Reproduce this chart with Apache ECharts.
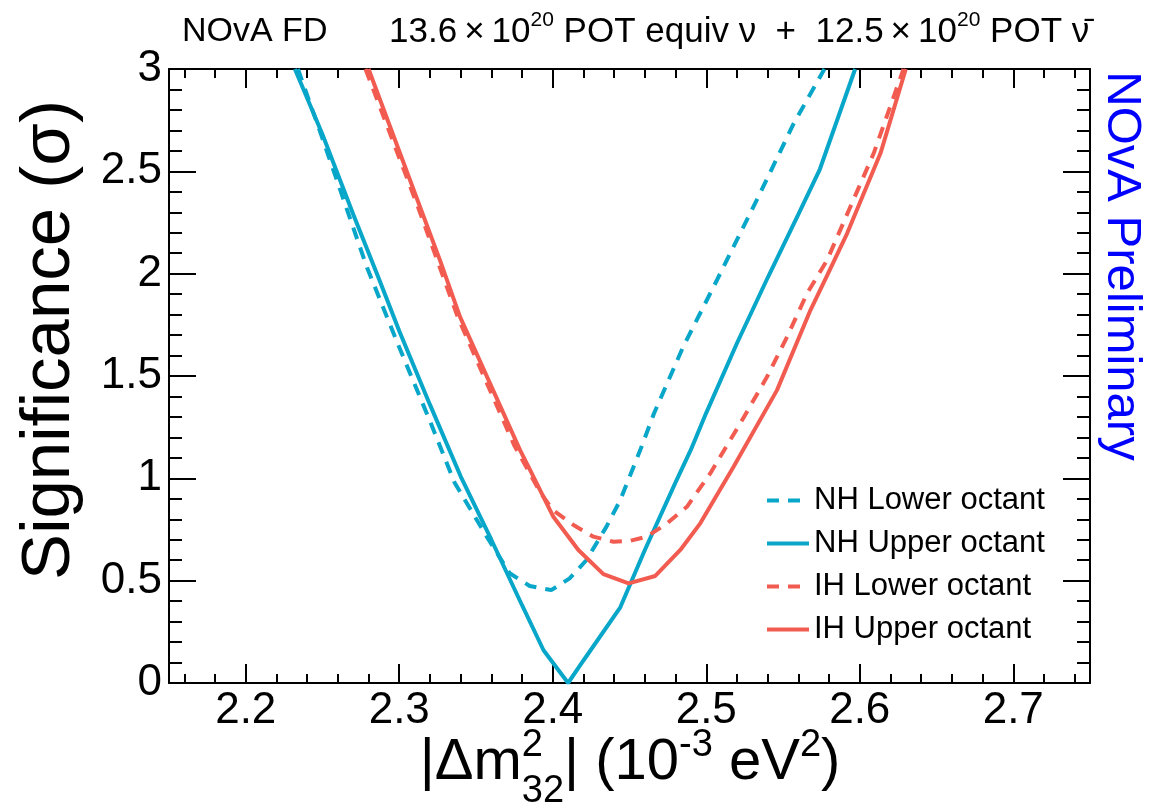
<!DOCTYPE html>
<html><head><meta charset="utf-8">
<script src="https://cdn.jsdelivr.net/npm/echarts@6/dist/echarts.min.js"></script>
<style>html,body{margin:0;padding:0;background:#fff}#c{width:1176px;height:806px}</style>
</head><body><div id="c"></div><script>
// ---- data ----
const xMajorTicks = [2.2, 2.3, 2.4, 2.5, 2.6, 2.7];
const xMinorTicks = [2.16,2.18,2.2,2.22,2.24,2.26,2.28,2.3,2.32,2.34,2.36,2.38,2.4,2.42,2.44,2.46,2.48,2.5,2.52,2.54,2.56,2.58,2.6,2.62,2.64,2.66,2.68,2.7,2.72,2.74];
const seriesNames = ['NH Lower octant', 'NH Upper octant', 'IH Lower octant', 'IH Upper octant'];

const nhLowerDm  = [2.234, 2.25, 2.279, 2.300, 2.320, 2.336, 2.357, 2.372, 2.385, 2.399, 2.411, 2.422, 2.435, 2.444, 2.457, 2.466, 2.485, 2.507, 2.535, 2.557, 2.577];
const nhLowerSig = [3.0,   2.66, 2.03,  1.64,  1.28,  0.98,  0.715, 0.536, 0.474, 0.454, 0.511, 0.601, 0.764, 0.894, 1.138, 1.318, 1.643, 1.969, 2.392, 2.734, 3.0];

const nhUpperDm  = [2.232, 2.25, 2.27, 2.287, 2.30, 2.32, 2.34, 2.36, 2.38, 2.394, 2.41, 2.42, 2.444, 2.46, 2.48, 2.49, 2.50, 2.52, 2.53, 2.54, 2.56, 2.574, 2.597];
const nhUpperSig = [3.0,   2.68, 2.29, 1.97,  1.72, 1.36, 1.01, 0.70, 0.38, 0.16,  0.0,  0.11, 0.37,  0.65, 0.98, 1.14, 1.32, 1.66, 1.82, 1.98, 2.29, 2.51,  3.0];

const ihLowerDm  = [2.278, 2.312, 2.338, 2.375, 2.392, 2.400, 2.4135, 2.4265, 2.4396, 2.4505, 2.4613, 2.4744, 2.4874, 2.5026, 2.5222, 2.5396, 2.5527, 2.5657, 2.5787, 2.5939, 2.6091, 2.6285];
const ihLowerSig = [3.0,   2.33,  1.79,  1.16,  0.93,  0.845, 0.772,  0.715,  0.690,  0.695,  0.715,  0.780,  0.861,  1.024,  1.269,  1.496,  1.692,  1.904,  2.066,  2.327,  2.588,  3.0];

const ihUpperDm  = [2.280, 2.3135, 2.3265, 2.3396, 2.3787, 2.3852, 2.4004, 2.4167, 2.433, 2.4494, 2.4668, 2.4831, 2.4961, 2.5178, 2.5461, 2.5679, 2.5787, 2.5918, 2.6135, 2.630];
const ihUpperSig = [3.0,   2.327,  2.066,  1.789,  1.138,  1.041,  0.812,  0.650,  0.532, 0.487,  0.523,  0.650,  0.780,  1.057,  1.431,  1.822,  1.99,   2.197,  2.588,  3.0];

// ---- styling ----
const FONT = "'Liberation Sans', Arial, Helvetica, sans-serif";
const BLUE = '#08a6c9';
const RED = '#f25b50';
const zip = (a, b) => a.map((v, i) => [v, b[i]]);

const chart = echarts.init(document.getElementById('c'), null, {renderer: 'canvas'});

function xAx(pos, ticks, len, withLine, withLabel) {
  return {
    type: 'value', position: pos, min: 2.15, max: 2.75,
    axisLine: {show: withLine, onZero: false, lineStyle: {color: '#000', width: 2}},
    axisTick: {show: true, inside: true, length: len, customValues: ticks, lineStyle: {color: '#000', width: 2}},
    axisLabel: withLabel ? {show: true, customValues: xMajorTicks, fontSize: 44, color: '#000', fontFamily: FONT, margin: 6,
      formatter: v => v.toFixed(1)} : {show: false},
    splitLine: {show: false}
  };
}
function yAx(pos, withLabel) {
  return {
    type: 'value', position: pos, min: 0, max: 3, interval: 0.5,
    axisLine: {show: true, onZero: false, lineStyle: {color: '#000', width: 2}},
    axisTick: {show: true, inside: true, length: 27, lineStyle: {color: '#000', width: 2}},
    minorTick: {show: true, splitNumber: 5, length: 13, lineStyle: {color: '#000', width: 2}},
    axisLabel: withLabel ? {show: true, fontSize: 44, color: '#000', fontFamily: FONT, margin: 7,
      formatter: v => String(v)} : {show: false},
    splitLine: {show: false}, minorSplitLine: {show: false}
  };
}

function lineSeries(name, xs, ys, color, dashed) {
  return {
    type: 'line', name: name, data: zip(xs, ys), xAxisIndex: 0, yAxisIndex: 0,
    symbol: 'none', showSymbol: false, clip: true,
    lineStyle: {color: color, width: 4, type: dashed ? [12, 9] : 'solid'},
    itemStyle: {color: color}
  };
}

// measure text for composing the x-axis title
const mctx = document.createElement('canvas').getContext('2d');
function tw(t, size) { mctx.font = size + 'px ' + FONT; return mctx.measureText(t).width; }

const F = 58, S = 38;
const yMain = 763, ySup = 746, ySub = 792;
const pieces = [
  {t: '|Δm', size: F, y: yMain},
  {stack: [{t: '2', size: S, y: ySup}, {t: '32', size: S, y: ySub}]},
  {t: '| (10', size: F, y: yMain},
  {t: '-3', size: S, y: ySup},
  {t: ' eV', size: F, y: yMain},
  {t: '2', size: S, y: ySup},
  {t: ')', size: F, y: yMain}
];
let total = 0;
pieces.forEach(p => {
  p.w = p.stack ? Math.max(...p.stack.map(s => tw(s.t, s.size))) : tw(p.t, p.size);
  total += p.w;
});
let cx = 630 - total / 2;
const xTitle = [];
pieces.forEach(p => {
  const list = p.stack ? p.stack : [p];
  list.forEach(s => xTitle.push({type: 'text', x: cx, y: s.y, silent: true,
    style: {text: s.t, fontSize: s.size, fontFamily: FONT, fill: '#000', align: 'left', verticalAlign: 'middle'}}));
  cx += p.w;
});

const option = {
  animation: false,
  backgroundColor: '#fff',
  grid: {left: 169, right: 86, top: 69, bottom: 123, containLabel: false},
  xAxis: [
    xAx('bottom', xMajorTicks, 19, true, true),
    xAx('bottom', xMinorTicks, 9, false, false),
    xAx('top', xMajorTicks, 19, true, false),
    xAx('top', xMinorTicks, 9, false, false)
  ],
  yAxis: [yAx('left', true), yAx('right', false)],
  legend: {
    orient: 'vertical', left: 760, top: 480, itemWidth: 42, itemHeight: 14, itemGap: 12,
    selectedMode: false, data: seriesNames,
    itemStyle: {opacity: 0},
    lineStyle: {width: 4},
    textStyle: {fontSize: 31, fontFamily: FONT, color: '#000', lineHeight: 31}
  },
  series: [
    lineSeries(seriesNames[0], nhLowerDm, nhLowerSig, BLUE, true),
    lineSeries(seriesNames[1], nhUpperDm, nhUpperSig, BLUE, false),
    lineSeries(seriesNames[2], ihLowerDm, ihLowerSig, RED, true),
    lineSeries(seriesNames[3], ihUpperDm, ihUpperSig, RED, false)
  ],
  graphic: [
    {type: 'text', x: 182, y: 32, silent: true,
     style: {text: 'NOvA FD', fontSize: 34, fontFamily: FONT, fill: '#000', align: 'left', verticalAlign: 'middle'}},
    {type: 'text', x: 389, y: 32, silent: true,
     style: {text: '13.6\u2009×\u200910{s|20} POT equiv ν  +  12.5\u2009×\u200910{s|20} POT ν\u0304', fontSize: 35, fontFamily: FONT, fill: '#000',
       align: 'left', verticalAlign: 'middle', lineHeight: 44,
       rich: {s: {fontSize: 21, fontFamily: FONT, fill: '#000', verticalAlign: 'top', lineHeight: 21}}}},
    {type: 'text', x: 1122, y: 266, rotation: -Math.PI / 2, silent: true,
     style: {text: 'NOvA Preliminary', fontSize: 49, fontFamily: FONT, fill: '#0000ff', align: 'center', verticalAlign: 'middle'}},
    {type: 'text', x: 50, y: 340, rotation: Math.PI / 2, silent: true,
     style: {text: 'Significance (σ)', fontSize: 69, fontFamily: FONT, fill: '#000', align: 'center', verticalAlign: 'middle'}}
  ].concat(xTitle)
};
chart.setOption(option);
</script></body></html>
